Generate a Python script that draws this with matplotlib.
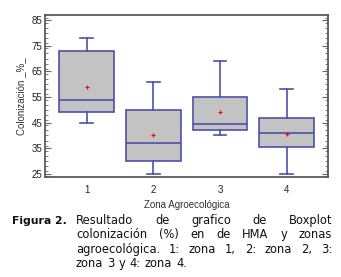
import matplotlib.pyplot as plt
from matplotlib.ticker import MultipleLocator

zonas = ['1', '2', '3', '4']
minimos = [45, 25, 40, 25]
q1 = [49, 30, 42, 35.5]
medianas = [54, 37, 44.5, 41]
q3 = [73, 50, 55, 47]
maximos = [78, 61, 69, 58]
medias = [59, 40, 49, 40.5]

W, H = 341, 277
fig = plt.figure(figsize=(W / 100, H / 100), dpi=100)
ax = fig.add_axes([45 / W, 1 - 177 / H, 283 / W, 162 / H])

stats = []
for i in range(len(zonas)):
    stats.append({'label': zonas[i], 'whislo': minimos[i], 'q1': q1[i],
                  'med': medianas[i], 'q3': q3[i], 'whishi': maximos[i],
                  'mean': medias[i], 'fliers': []})

azul = '#4b52a8'
ax.bxp(stats, positions=[1, 2, 3, 4], widths=0.82, capwidths=0.19,
       showmeans=True, patch_artist=True,
       boxprops=dict(facecolor='#c3c3c3', edgecolor=azul, linewidth=1.2),
       whiskerprops=dict(color=azul, linewidth=1.2),
       capprops=dict(color=azul, linewidth=1.2),
       medianprops=dict(color=azul, linewidth=1.2),
       meanprops=dict(marker='+', markeredgecolor='red', markersize=3,
                      markeredgewidth=0.8))

ax.set_xlim(0.375, 4.62)
ax.set_ylim(23.8, 87)
ax.set_yticks([25, 35, 45, 55, 65, 75, 85])
ax.yaxis.set_minor_locator(MultipleLocator(2))
ax.tick_params(axis='y', which='both', direction='in', left=True, right=True,
               color='#666666', labelsize=7, pad=2, labelcolor='#222222')
ax.tick_params(axis='y', which='major', length=4, width=0.8)
ax.tick_params(axis='y', which='minor', length=2.5, width=0.6)
ax.tick_params(axis='x', length=0, labelsize=7, pad=6, labelcolor='#222222')
for lab in ax.get_xticklabels() + ax.get_yticklabels():
    lab.set_fontfamily('Liberation Sans')
for s in ax.spines.values():
    s.set_color('#5a5a5a')
    s.set_linewidth(1.3)

ax.set_xlabel('Zona Agroecológica', fontsize=7, family='Liberation Sans',
              color='#333333', labelpad=3)
ax.set_ylabel('Colonización _%_', fontsize=7, family='Liberation Sans',
              color='#333333', labelpad=4)

# pie de figura justificado
fs = 8.3
ys = [224, 238.3, 252.6, 267]
fig.text(12 / W, 1 - ys[0] / H, 'Figura 2.', fontsize=7.8, fontweight='bold',
         va='baseline', color='#111111')
lineas = ['Resultado de grafico de Boxplot',
          'colonización (%) en de HMA y zonas',
          'agroecológica. 1: zona 1, 2: zona 2, 3:',
          'zona 3 y 4: zona 4.']
x0, x1 = 76, 332
fig.canvas.draw()
r = fig.canvas.get_renderer()
for k, linea in enumerate(lineas):
    palabras = linea.split(' ')
    textos = [fig.text(0, 1 - ys[k] / H, p, fontsize=fs, va='baseline',
                       color='#111111') for p in palabras]
    anchos = [t.get_window_extent(r).width for t in textos]
    if k < len(lineas) - 1:
        hueco = (x1 - x0 - sum(anchos)) / (len(palabras) - 1)
    else:
        hueco = 4
    x = x0
    for t, w in zip(textos, anchos):
        t.set_x(x / W)
        x += w + hueco

fig.savefig('out.png', dpi=100)
